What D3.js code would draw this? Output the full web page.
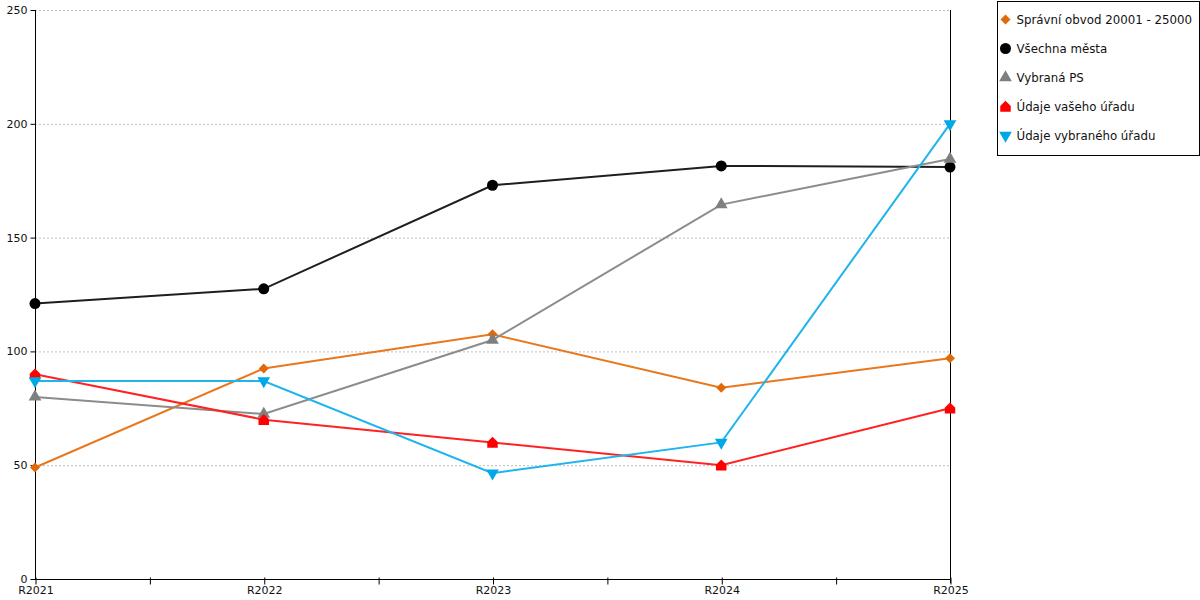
<!DOCTYPE html>
<html>
<head>
<meta charset="utf-8">
<style>
    body { margin: 0; background: #fff; }
    text { font-family: "DejaVu Sans", Verdana, sans-serif; }
</style>
</head>
<body>
<svg id="chart" width="1200" height="600"></svg>
<script src="https://d3js.org/d3.v7.min.js" charset="utf-8"></script>
<script>
    // data
    let years = ["R2021", "R2022", "R2023", "R2024", "R2025"]
    let yTicks = [0, 50, 100, 150, 200, 250]

    let spravniObvod = [49, 92.5, 107.5, 84, 97]
    let vsechnaMesta = [121, 127.5, 173, 181.5, 181]
    let vybranaPS = [80, 72.5, 105, 164.5, 184.5]
    let udajeVaseho = [90, 70, 60, 50, 75]
    let udajeVybraneho = [87, 87, 46.5, 60, 200]

    let seriesNames = ["Správní obvod 20001 - 25000", "Všechna města", "Vybraná PS",
                       "Údaje vašeho úřadu", "Údaje vybraného úřadu"]

    // house shaped marker (square with roof)
    let symbolHouse = {
        draw(ctx, size) {
            let s = Math.sqrt(size) / 2
            ctx.moveTo(0, -s * 1.1)
            ctx.lineTo(s, -s * 0.1)
            ctx.lineTo(s, s)
            ctx.lineTo(-s, s)
            ctx.lineTo(-s, -s * 0.1)
            ctx.closePath()
        }
    }

    let series = [
        { name: seriesNames[0], values: spravniObvod, line: "#e8781e", fill: "#e06a0a", sym: d3.symbolSquare, size: 50, rot: 45 },
        { name: seriesNames[1], values: vsechnaMesta, line: "#1e1e1e", fill: "#000000", sym: d3.symbolCircle, size: 95, rot: 0 },
        { name: seriesNames[2], values: vybranaPS, line: "#8c8c8c", fill: "#7f7f7f", sym: d3.symbolTriangle, size: 70, rot: 0 },
        { name: seriesNames[3], values: udajeVaseho, line: "#ff2222", fill: "#ff0000", sym: symbolHouse, size: 110, rot: 0 },
        { name: seriesNames[4], values: udajeVybraneho, line: "#1eb4ec", fill: "#00a8e8", sym: d3.symbolTriangle, size: 70, rot: 180 }
    ]

    let svg = d3.select("#chart")

    let x = d3.scalePoint().domain(years).range([35, 950])
    let xi = d3.scaleLinear().domain([0, years.length - 1]).range([35, 950])
    let y = d3.scaleLinear().domain([0, 250]).range([579, 10])

    // grid
    svg.append("g")
        .selectAll("line")
        .data(yTicks.filter(d => d > 0))
        .enter()
        .append("line")
        .attr("x1", x.range()[0])
        .attr("x2", x.range()[1])
        .attr("y1", d => y(d) + 0.5)
        .attr("y2", d => y(d) + 0.5)
        .style("stroke", "#c0c0c0")
        .style("stroke-dasharray", "2,2")

    // y axis
    let yAxis = d3.axisLeft(y).tickValues(yTicks).tickSize(5).tickPadding(3)
    let gy = svg.append("g")
        .attr("transform", "translate(35.5,0)")
        .call(yAxis)
    gy.select(".domain").remove()
    gy.selectAll("text").style("font-size", "11px").style("fill", "#111")
    gy.append("line").attr("y1", y(0)).attr("y2", y(250)).style("stroke", "#000")

    // right border line
    svg.append("line")
        .attr("x1", x.range()[1] + 0.5).attr("x2", x.range()[1] + 0.5)
        .attr("y1", y(250)).attr("y2", y(0) + 4)
        .style("stroke", "#000")

    // x axis
    let gx = svg.append("g").attr("transform", `translate(0,${y(0) + 0.5})`)
    gx.append("line")
        .attr("x1", x.range()[0]).attr("x2", x.range()[1])
        .style("stroke", "#000")
    let xAxis = d3.axisBottom(x).tickSize(7).tickPadding(2)
    let gxl = gx.append("g").attr("transform", "translate(0.5,-2)").call(xAxis)
    gxl.select(".domain").remove()
    gxl.selectAll("text").style("font-size", "11px").style("fill", "#111")
    let xMid = d3.axisBottom(xi).tickValues([0.5, 1.5, 2.5, 3.5]).tickFormat("").tickSize(7)
    let gxm = gx.append("g").attr("transform", "translate(0.5,-2)").call(xMid)
    gxm.select(".domain").remove()

    // lines
    let line = d3.line()
        .x((d, i) => x(years[i]))
        .y(d => y(d))

    let plot = svg.append("g")
    series.forEach(s => {
        plot.append("path")
            .datum(s.values)
            .attr("d", line)
            .style("fill", "none")
            .style("stroke", s.line)
            .style("stroke-width", 2)
    })
    series.forEach(s => {
        plot.selectAll(null)
            .data(s.values)
            .enter()
            .append("path")
            .attr("d", d3.symbol().type(s.sym).size(s.size))
            .attr("transform", (d, i) => `translate(${x(years[i])},${y(d)}) rotate(${s.rot})`)
            .style("fill", s.fill)
    })

    // legend
    let legend = svg.append("g").attr("transform", "translate(997.5,1.5)")
    legend.append("rect")
        .attr("width", 202)
        .attr("height", 154)
        .style("fill", "#fff")
        .style("stroke", "#000")
    let items = legend.selectAll("g.item")
        .data(series)
        .enter()
        .append("g")
        .attr("class", "item")
        .attr("transform", (d, i) => `translate(8,${18 + i * 29})`)
    items.append("path")
        .attr("d", d => d3.symbol().type(d.sym).size(d.size)())
        .attr("transform", d => `rotate(${d.rot})`)
        .style("fill", d => d.fill)
    items.append("text")
        .attr("x", 11)
        .attr("dy", "0.35em")
        .style("font-size", "11.8px")
        .style("fill", "#111")
        .text(d => d.name)
</script>
</body>
</html>
